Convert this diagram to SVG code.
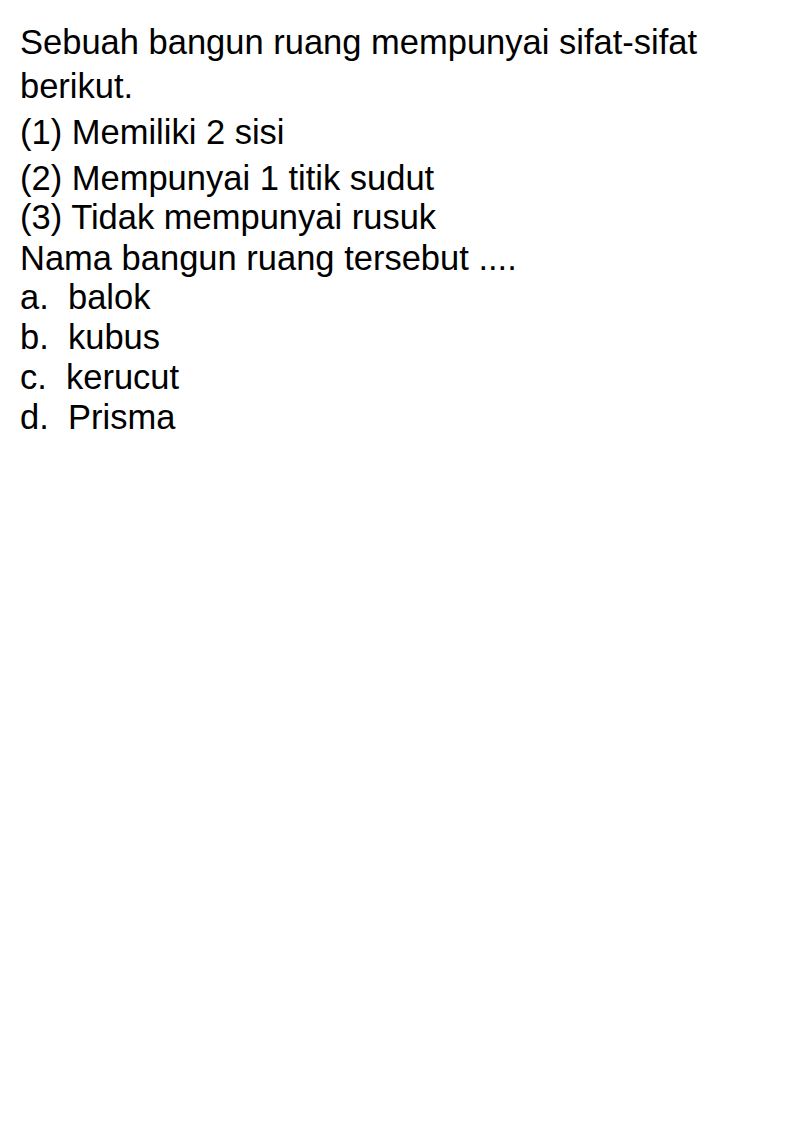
<svg xmlns="http://www.w3.org/2000/svg" width="794" height="1123" viewBox="0 0 794 1123">
<style>
text { font-family: "Liberation Sans", Arial, sans-serif; font-size: 34.5px; fill: #000; }
</style>
<rect width="794" height="1123" fill="#fff"/>
<g id="question">
<text x="20" y="54">Sebuah bangun ruang mempunyai sifat-sifat</text>
<text x="20" y="98">berikut.</text>
<text x="20" y="144">(1) Memiliki 2 sisi</text>
<text x="20" y="190">(2) Mempunyai 1 titik sudut</text>
<text x="20" y="229">(3) Tidak mempunyai rusuk</text>
<text x="20" y="270">Nama bangun ruang tersebut ....</text>
</g>
<g id="options">
<text x="20" y="309">a.<tspan x="68">balok</tspan></text>
<text x="20" y="349">b.<tspan x="68">kubus</tspan></text>
<text x="20" y="389">c.<tspan x="66">kerucut</tspan></text>
<text x="20" y="429">d.<tspan x="68">Prisma</tspan></text>
</g>
</svg>
